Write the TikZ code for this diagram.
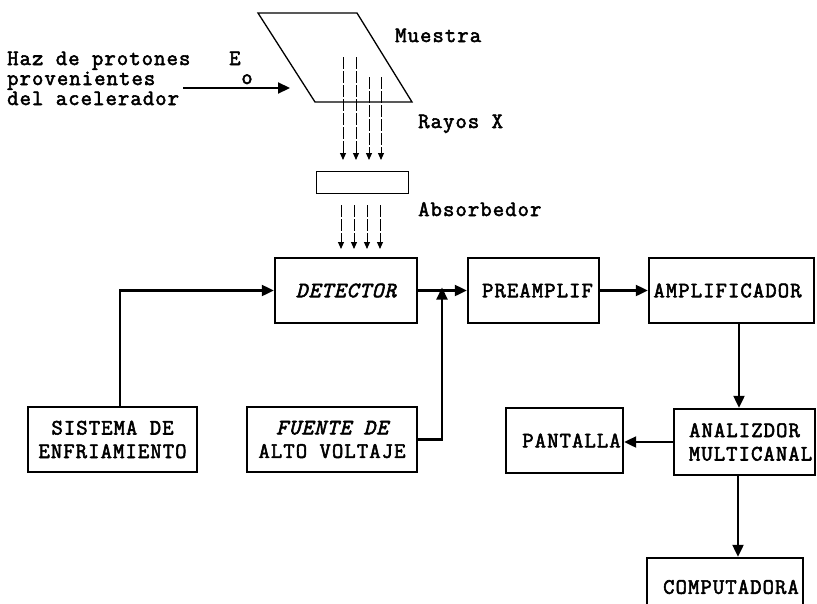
\documentclass[tikz,border=0pt]{standalone}
\usepackage{fontspec}
\newfontfamily\cour{Latin Modern Mono}[FakeBold=2.5, LetterSpace=5]
\usetikzlibrary{arrows.meta}
\tikzset{
  txt/.style={font=\cour\fontsize{22}{23.5}\selectfont, inner sep=0pt},
  lbl/.style={txt, anchor=base west},
  blk/.style={draw, line width=2.4pt, txt, align=center},
  arr/.style={line width=2.2pt, -{Triangle[length=12pt,width=11pt]}},
  ray/.style={line width=1pt, dash pattern=on 12pt off 2pt, -{Triangle[length=7pt,width=6pt]}}
}
\begin{document}
\begin{tikzpicture}[x=1pt,y=-1pt]
\clip (0,0) rectangle (817,603);
\fill[white] (0,0) rectangle (817,603);

% sample
\draw[line width=1.3pt] (258,13) -- (357,13) -- (412,102) -- (315,102) -- cycle;
\node[lbl] (muestra) at (395,42) {Muestra};
\node[lbl] (rayos) at (418,128) {Rayos X};
\node[lbl] (absl) at (418,216) {Absorbedor};

% proton beam
\node[lbl] (haz1) at (7,65) {Haz de protones};
\node[lbl] (haz2) at (7,85) {provenientes};
\node[lbl] (haz3) at (7,105) {del acelerador};
\node[lbl] (e) at (229,65) {E};
\node[txt, anchor=base] (eo) at (247,84) {o};
\coordinate (b0) at (183,88);
\coordinate (b1) at (290,88);
\draw[arr] (b0) -- (b1);

% X rays above absorber
\draw[ray] (343,57) -- (343,160);
\draw[ray] (356,57) -- (356,160);
\draw[ray] (369,77) -- (369,160);
\draw[ray] (381,77) -- (381,160);
\node[draw, line width=1pt, minimum width=92pt, minimum height=22pt] (abs) at (362,182) {};
\draw[ray] (341,205) -- (341,249);
\draw[ray] (354,205) -- (354,249);
\draw[ray] (367,205) -- (367,249);
\draw[ray] (380,205) -- (380,249);

% blocks
\node[blk, minimum width=142pt, minimum height=65pt] (det) at (346,290.5) {\itshape DETECTOR};
\node[blk, minimum width=131pt, minimum height=65pt] (pre) at (533.5,290.5) {\hspace*{8pt}PREAMPLIF};
\node[blk, minimum width=165pt, minimum height=65pt] (amp) at (731.5,290.5) {AMPLIFICADOR\hspace*{8pt}};
\node[blk, minimum width=141pt, minimum height=66pt] (ana) at (744.5,442) {\hspace*{12pt}ANALIZDOR\hspace*{12pt}\\\hspace*{12pt}MULTICANAL};
\node[blk, minimum width=117pt, minimum height=65pt] (pan) at (564.5,440.5) {\hspace*{14pt}PANTALLA};
\node[blk, minimum width=169pt, minimum height=65pt] (sis) at (112.5,439.5) {SISTEMA DE\\ENFRIAMIENTO};
\node[blk, minimum width=170pt, minimum height=65pt] (fue) at (332,439.5) {\itshape FUENTE DE\\ALTO VOLTAJE};
\node[blk, minimum width=156pt, minimum height=58pt] (com) at (725,587) {\hspace*{12pt}COMPUTADORA};

% connectors
\coordinate (j) at (442,290.5);
\draw[arr] ([xshift=7.5pt]sis.north) |- (det.west);
\draw[arr] (det.east) -- (pre.west);
\draw[arr] (fue.east) -| ([yshift=3pt]j);
\draw[arr] (pre.east) -- (amp.west);
\draw[arr] ([xshift=7.5pt]amp.south) -- ([xshift=7.5pt]amp.south |- ana.north);
\draw[arr] (ana.west) -- (ana.west -| pan.east);
\draw[arr] ([xshift=-6.5pt]ana.south) -- ([xshift=-6.5pt]ana.south |- com.north);
\end{tikzpicture}
\end{document}
